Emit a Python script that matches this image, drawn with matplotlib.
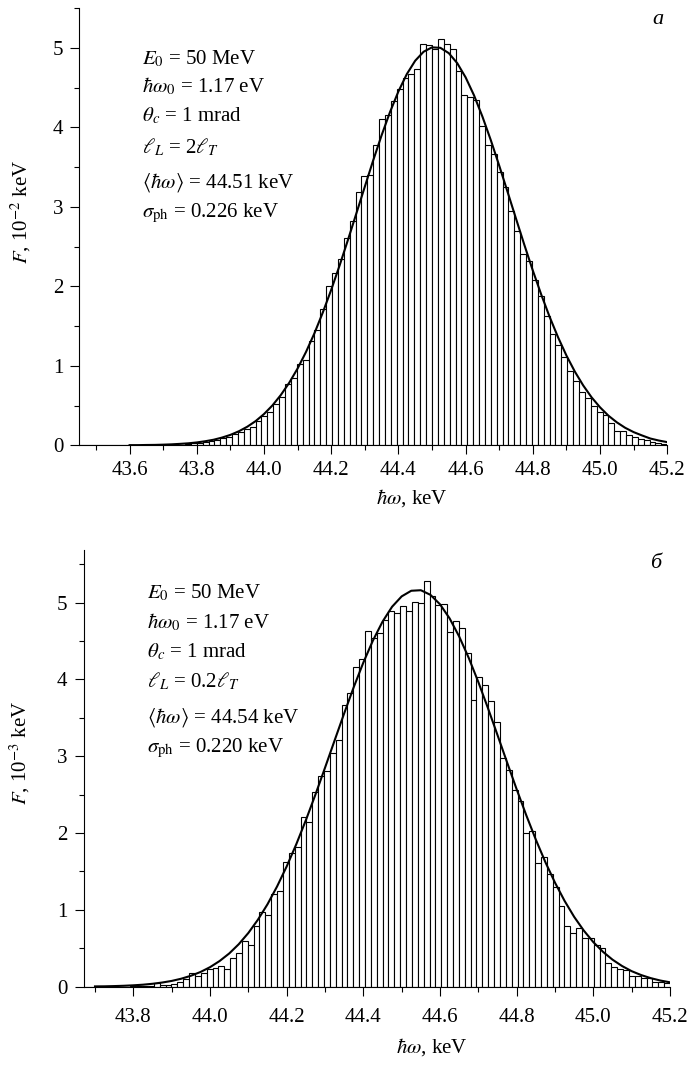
import numpy as np
import matplotlib
matplotlib.use('Agg')
import matplotlib.pyplot as plt
from matplotlib.ticker import MultipleLocator, FormatStrFormatter

plt.rcParams['font.family'] = ['Liberation Serif', 'DejaVu Serif']
plt.rcParams['mathtext.fontset'] = 'stix'

# panel a: 100 bins over the histogram range, F in 10^-2 keV
a_range = (43.45, 45.20)
a_counts = [0] * 15 + [
    0.004, 0.006, 0.010, 0.016, 0.025, 0.033, 0.040, 0.054, 0.067, 0.088,
    0.109, 0.138, 0.170, 0.207, 0.235, 0.300, 0.365, 0.424, 0.515, 0.612,
    0.776, 0.844, 1.020, 1.074, 1.318, 1.456, 1.712, 2.000, 2.166, 2.342,
    2.607, 2.816, 3.183, 3.383, 3.404, 3.774, 4.105, 4.160, 4.336, 4.483,
    4.622, 4.676, 4.727, 5.050, 5.033, 4.990, 5.105, 5.050, 4.979, 4.705,
    4.400, 4.378, 4.349, 4.013, 3.774, 3.669, 3.434, 3.250, 2.942, 2.700,
    2.409, 2.313, 2.082, 1.872, 1.628, 1.402, 1.263, 1.116, 0.940, 0.810,
    0.675, 0.592, 0.495, 0.423, 0.382, 0.277, 0.184, 0.184, 0.130, 0.100,
    0.083, 0.067, 0.046, 0.025, 0.017]
# fitted curve read every 0.025 keV from 43.60 to 45.20
a_fit_x = np.linspace(43.60, 45.20, 65)
a_fit_y = [0.002, 0.002, 0.004, 0.005, 0.008, 0.012, 0.018, 0.025, 0.036,
           0.051, 0.070, 0.097, 0.131, 0.176, 0.233, 0.304, 0.393, 0.501,
           0.632, 0.786, 0.966, 1.174, 1.408, 1.670, 1.955, 2.262, 2.585,
           2.918, 3.252, 3.584, 3.899, 4.191, 4.450, 4.668, 4.837, 4.950,
           5.005, 4.999, 4.932, 4.807, 4.628, 4.402, 4.135, 3.838, 3.518,
           3.186, 2.851, 2.519, 2.199, 1.897, 1.616, 1.360, 1.130, 0.928,
           0.753, 0.603, 0.478, 0.373, 0.289, 0.220, 0.166, 0.124, 0.085,
           0.060, 0.040]
a_text = [r'$E_0$ = 50 MeV', r'$\hbar\omega_0$ = 1.17 eV',
          r'$\theta_c$ = 1 mrad', r'$\ell_L$ = 2$\ell_T$',
          r'$\langle\hbar\omega\rangle$ = 44.51 keV',
          r'$\sigma_{\rm ph}$ = 0.226 keV']

# panel b: F in 10^-3 keV
b_range = (43.67, 45.20)
b_counts = [0] * 8 + [
    0.012, 0.012, 0.005, 0.005, 0.044, 0.026, 0.026, 0.035, 0.057, 0.100,
    0.182, 0.139, 0.174, 0.230, 0.240, 0.270, 0.230, 0.370, 0.440, 0.600,
    0.548, 0.792, 0.977, 0.933, 1.205, 1.250, 1.620, 1.745, 1.823, 2.210,
    2.149, 2.540, 2.743, 2.813, 3.039, 3.212, 3.668, 3.820, 4.162, 4.263,
    4.623, 4.540, 4.600, 4.770, 4.888, 4.862, 4.960, 4.888, 5.011, 5.000,
    5.278, 5.089, 4.963, 4.975, 4.614, 4.753, 4.666, 4.341, 3.733, 4.028,
    3.928, 3.720, 3.446, 2.980, 2.826, 2.561, 2.422, 1.997, 2.027, 1.606,
    1.684, 1.467, 1.294, 1.050, 0.794, 0.695, 0.760, 0.630, 0.630, 0.543,
    0.500, 0.313, 0.260, 0.226, 0.217, 0.139, 0.139, 0.109, 0.109, 0.065,
    0.057, 0.044]
b_fit_x = np.linspace(43.70, 45.20, 61)
b_fit_y = [0.004, 0.005, 0.008, 0.012, 0.018, 0.026, 0.038, 0.054, 0.075,
           0.104, 0.142, 0.191, 0.254, 0.334, 0.432, 0.553, 0.699, 0.872,
           1.073, 1.305, 1.565, 1.853, 2.166, 2.500, 2.849, 3.204, 3.557,
           3.899, 4.218, 4.505, 4.750, 4.945, 5.080, 5.153, 5.160, 5.100,
           4.977, 4.794, 4.558, 4.279, 3.965, 3.627, 3.275, 2.919, 2.569,
           2.232, 1.914, 1.620, 1.354, 1.117, 0.909, 0.731, 0.580, 0.455,
           0.352, 0.269, 0.202, 0.151, 0.111, 0.080, 0.057]
b_text = [r'$E_0$ = 50 MeV', r'$\hbar\omega_0$ = 1.17 eV',
          r'$\theta_c$ = 1 mrad', r'$\ell_L$ = 0.2$\ell_T$',
          r'$\langle\hbar\omega\rangle$ = 44.54 keV',
          r'$\sigma_{\rm ph}$ = 0.220 keV']

W, H = 691, 1068
fig = plt.figure(figsize=(W / 100, H / 100), dpi=100)


def panel(rect, rng, counts, fit_x, fit_y, ymax, ylabel, xlab_xy, ylab_xy, xpad):
    ax = fig.add_axes(rect)
    edges = np.linspace(rng[0], rng[1], len(counts) + 1)
    ax.bar(edges[:-1], counts, width=np.diff(edges), align='edge',
           facecolor='white', edgecolor='black', linewidth=0.8)
    ax.plot(fit_x, fit_y, color='black', lw=1.5)
    ax.set_xlim(rng)
    ax.set_ylim(0, ymax)
    for s in ('top', 'right'):
        ax.spines[s].set_visible(False)
    for s in ('left', 'bottom'):
        ax.spines[s].set_linewidth(0.8)
    ax.xaxis.set_major_locator(MultipleLocator(0.2))
    ax.xaxis.set_minor_locator(MultipleLocator(0.1))
    ax.xaxis.set_major_formatter(FormatStrFormatter('%.1f'))
    ax.yaxis.set_major_locator(MultipleLocator(1))
    ax.yaxis.set_minor_locator(MultipleLocator(0.5))
    ax.tick_params(which='major', direction='out', length=6.5, width=0.8,
                   labelsize=15, pad=5)
    ax.tick_params(axis='x', which='major', pad=xpad)
    ax.tick_params(which='minor', direction='out', length=3.5, width=0.8)
    ax.set_xlabel(r'$\hbar\omega$, keV', fontsize=15)
    ax.set_ylabel(ylabel, fontsize=15)
    ax.xaxis.set_label_coords(*xlab_xy)
    ax.yaxis.set_label_coords(*ylab_xy)
    return ax


panel([79.2 / W, 1 - 445.3 / H, 588 / W, 437.3 / H], a_range, a_counts,
      a_fit_x, a_fit_y, 5.5, r'$F$, 10$^{-2}$ keV', (0.566, -0.095),
      (-0.078, 0.533), 5)
panel([83.5 / W, 1 - 986.7 / H, 586.5 / W, 437.2 / H], b_range, b_counts,
      b_fit_x, b_fit_y, 5.69, r'$F$, 10$^{-3}$ keV', (0.594, -0.113),
      (-0.088, 0.536), 9)

a_base = [64, 92, 121, 153, 188, 217]
b_base = [598, 628, 657, 687, 723, 752]
for s, y in zip(a_text, a_base):
    fig.text(142 / W, 1 - y / H, s, fontsize=15, va='baseline')
for s, y in zip(b_text, b_base):
    fig.text(147 / W, 1 - y / H, s, fontsize=15, va='baseline')

fig.text(652 / W, 1 - 24 / H, 'a', fontsize=16, style='italic', va='baseline')
fig.text(650 / W, 1 - 568 / H, 'б', fontsize=16, style='italic', va='baseline')

fig.savefig('out.png', dpi=100)
